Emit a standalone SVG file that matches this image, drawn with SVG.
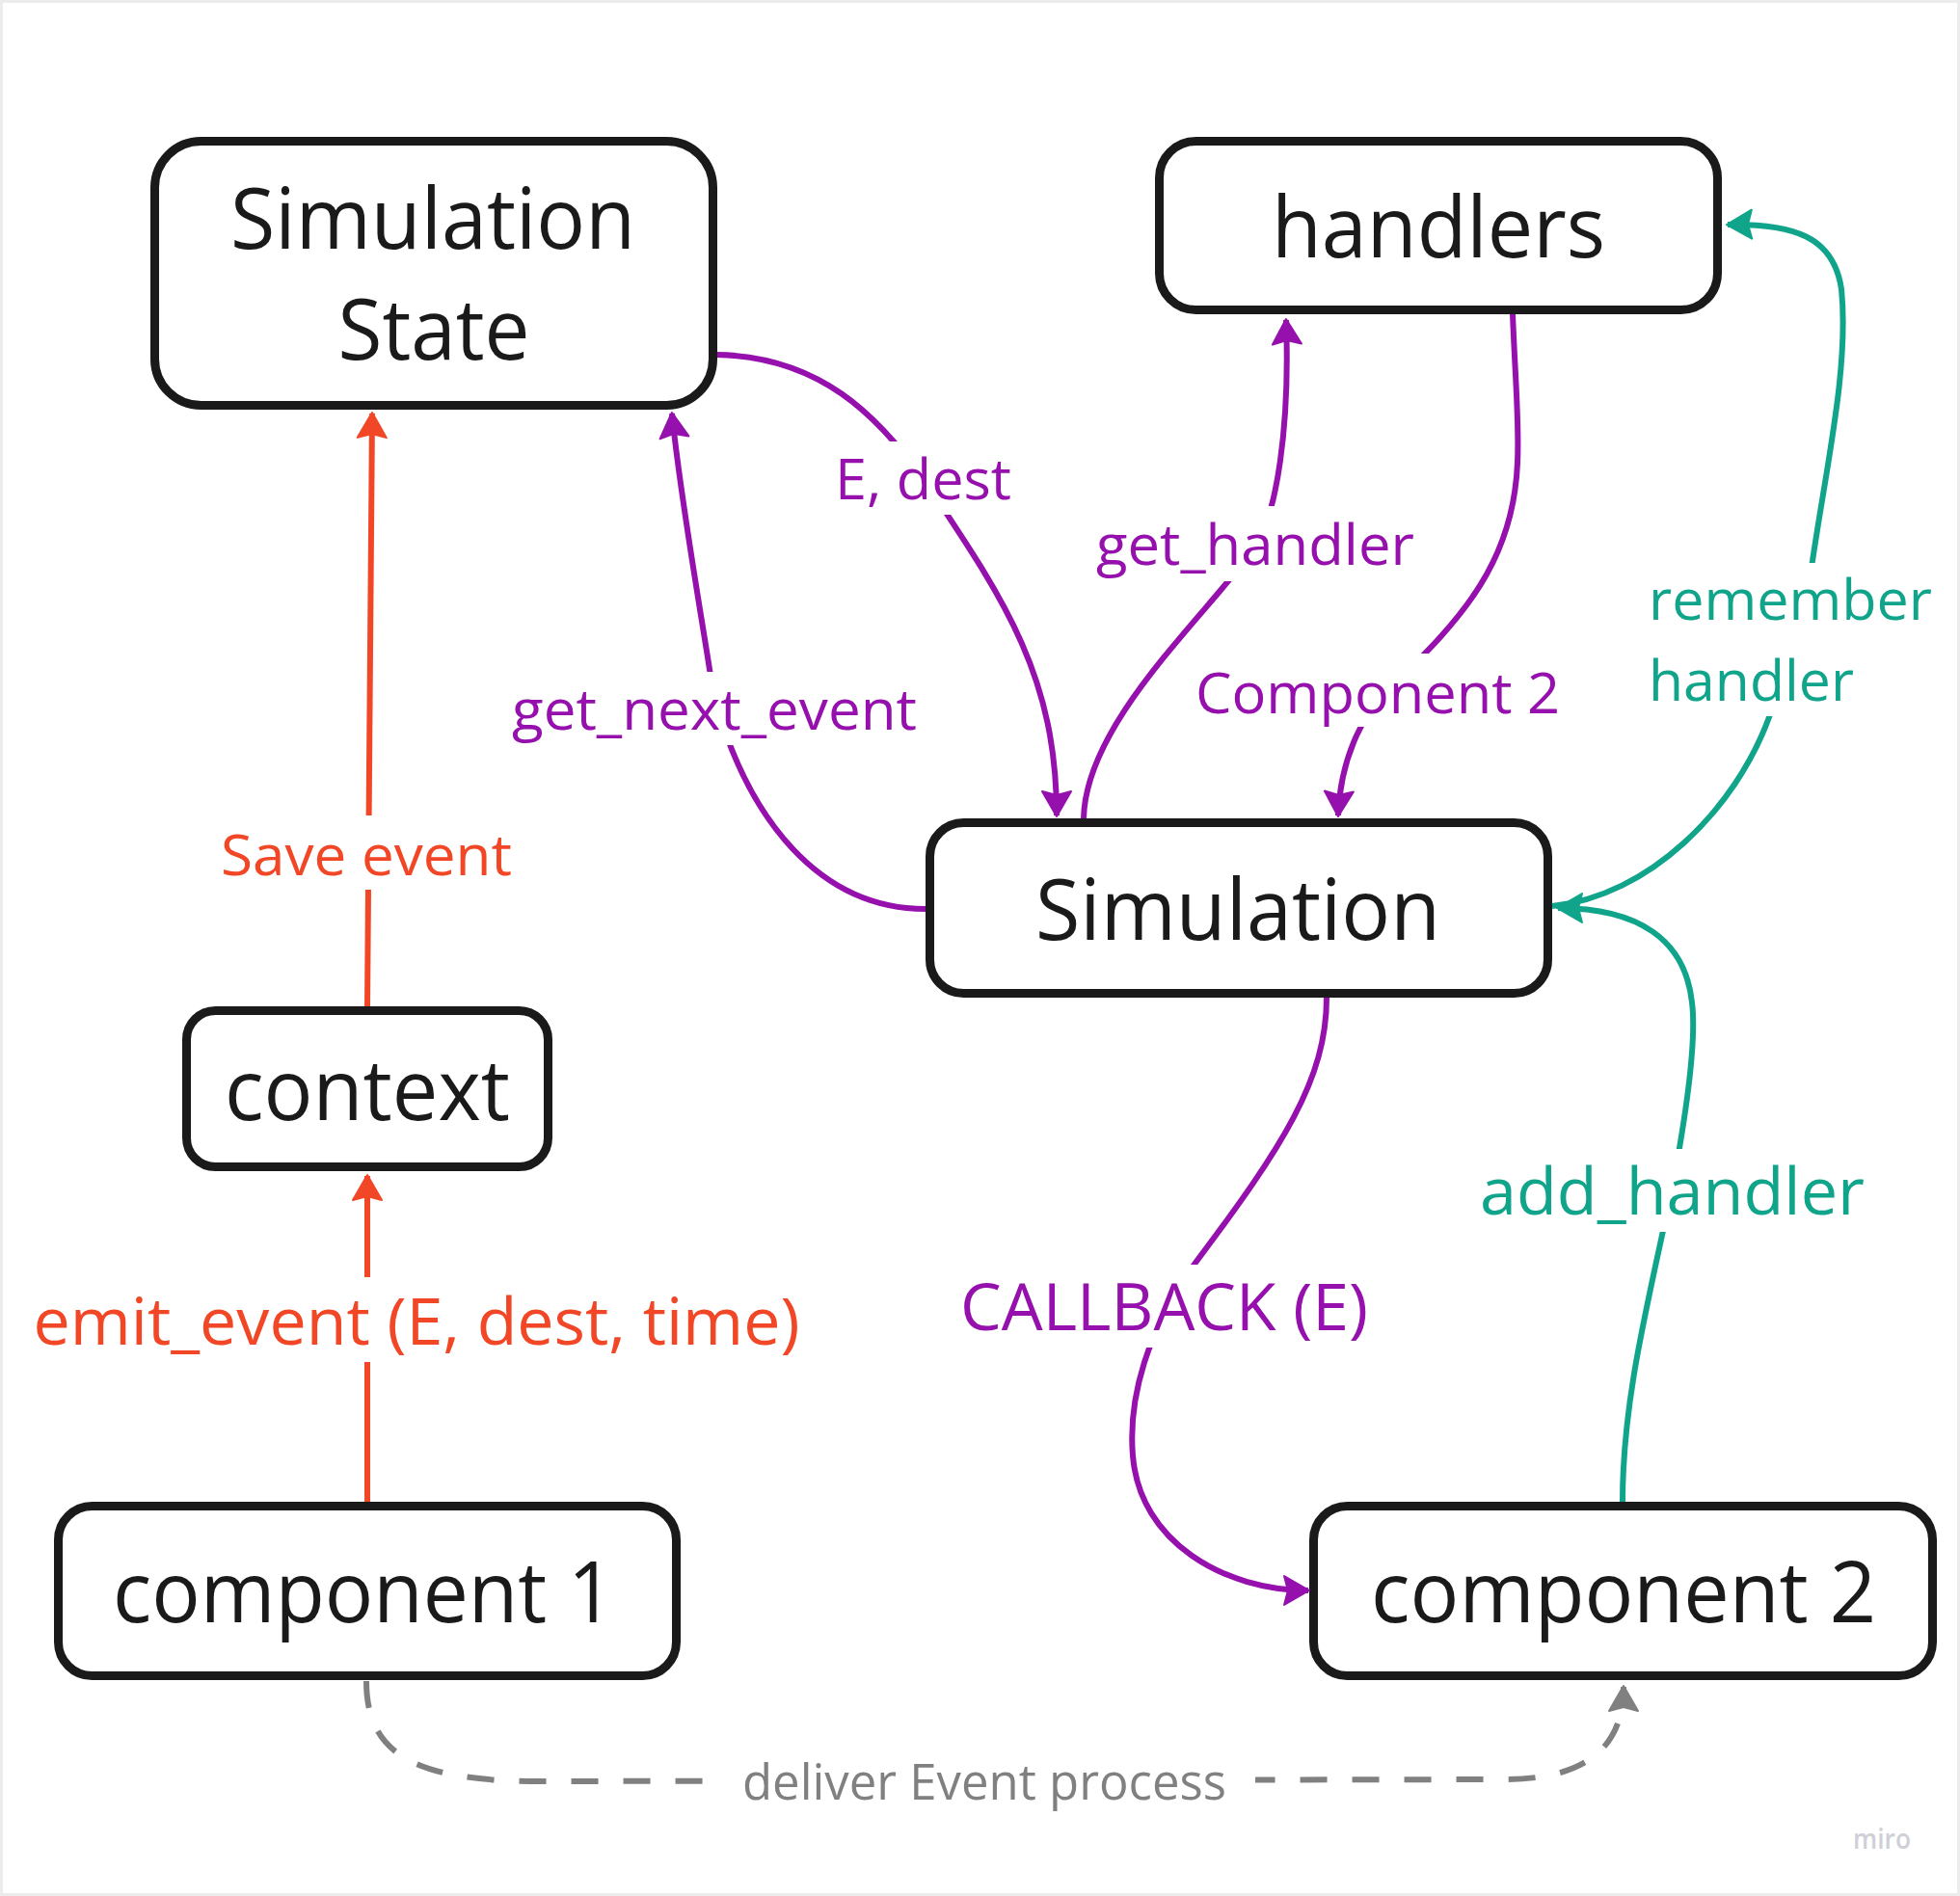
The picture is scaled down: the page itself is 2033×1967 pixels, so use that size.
<svg xmlns="http://www.w3.org/2000/svg" width="2033" height="1967" viewBox="0 0 2033 1967">
<style>
.node rect{fill:#fff;stroke:#1a1a1a;stroke-width:9}
.node text{font-family:"Open Sans","Noto Sans","Liberation Sans",sans-serif;font-size:87px;fill:#1a1a1a;text-anchor:middle}
.line{fill:none;stroke-width:6;stroke-linecap:butt}
.lbl{font-family:"Open Sans","Noto Sans","Liberation Sans",sans-serif;font-size:59px;text-anchor:middle}
.big{font-size:68px}
.bg{fill:#fff}
.red{stroke:#f24726}.redt{fill:#f24726}
.pur{stroke:#9510ac}.purt{fill:#9510ac}
.tea{stroke:#10a58b}.teat{fill:#10a58b}
.gry{stroke:#808080;stroke-dasharray:28 26}.gryt{fill:#808080}
</style>
<defs>
<marker id="aRed" viewBox="-30 -17 32 34" refX="0" refY="0" markerWidth="32" markerHeight="34" markerUnits="userSpaceOnUse" orient="auto"><path d="M1,0 L-25,-15 L-21,0 L-25,15 Z" fill="#f24726" stroke="#f24726" stroke-width="2" stroke-linejoin="round"/></marker>
<marker id="aPur" viewBox="-30 -17 32 34" refX="0" refY="0" markerWidth="32" markerHeight="34" markerUnits="userSpaceOnUse" orient="auto"><path d="M1,0 L-25,-15 L-21,0 L-25,15 Z" fill="#9510ac" stroke="#9510ac" stroke-width="2" stroke-linejoin="round"/></marker>
<marker id="aTea" viewBox="-30 -17 32 34" refX="0" refY="0" markerWidth="32" markerHeight="34" markerUnits="userSpaceOnUse" orient="auto"><path d="M1,0 L-25,-15 L-21,0 L-25,15 Z" fill="#10a58b" stroke="#10a58b" stroke-width="2" stroke-linejoin="round"/></marker>
<marker id="aGry" viewBox="-30 -17 32 34" refX="0" refY="0" markerWidth="32" markerHeight="34" markerUnits="userSpaceOnUse" orient="auto"><path d="M1,0 L-25,-15 L-21,0 L-25,15 Z" fill="#808080" stroke="#808080" stroke-width="2" stroke-linejoin="round"/></marker>
</defs>
<rect x="1.5" y="1.5" width="2030" height="1964" fill="#fff" stroke="#ececec" stroke-width="3"/>

<g id="nodes">
<g id="simulation-state" class="node"><rect x="160.5" y="146.5" width="579" height="274" rx="48"/><text x="449" y="258" textLength="420" lengthAdjust="spacingAndGlyphs">Simulation</text><text x="450" y="373" textLength="199" lengthAdjust="spacingAndGlyphs">State</text></g>
<g id="handlers" class="node"><rect x="1202.5" y="146.5" width="579" height="175" rx="38"/><text x="1492" y="267" textLength="346" lengthAdjust="spacingAndGlyphs">handlers</text></g>
<g id="simulation" class="node"><rect x="964.5" y="853.5" width="641" height="177" rx="35"/><text x="1284" y="975" textLength="420" lengthAdjust="spacingAndGlyphs">Simulation</text></g>
<g id="context" class="node"><rect x="193.5" y="1048.5" width="375" height="162" rx="30"/><text x="381" y="1162" textLength="296" lengthAdjust="spacingAndGlyphs">context</text></g>
<g id="component-1" class="node"><rect x="60.5" y="1562.5" width="641" height="176" rx="35"/><text x="377" y="1683" textLength="520" lengthAdjust="spacingAndGlyphs">component 1</text></g>
<g id="component-2" class="node"><rect x="1362.5" y="1562.5" width="642" height="176" rx="35"/><text x="1684" y="1683" textLength="524" lengthAdjust="spacingAndGlyphs">component 2</text></g>
</g>

<g id="connectors">
<g id="save-event"><path class="line red" d="M 381 1044 L 386 429" marker-end="url(#aRed)"/><rect class="bg" x="221" y="846" width="318" height="77"/><text class="lbl redt" x="380" y="908" textLength="302" lengthAdjust="spacingAndGlyphs">Save event</text></g>
<g id="emit-event"><path class="line red" d="M 381 1558 L 381 1220" marker-end="url(#aRed)"/><rect class="bg" x="26" y="1325" width="811" height="88"/><text class="lbl big redt" x="432" y="1395" textLength="795" lengthAdjust="spacingAndGlyphs">emit_event (E, dest, time)</text></g>
<g id="get-next-event"><path class="line pur" d="M 960 943 C 850 943, 775 850, 740 720 C 728 640, 706 520, 697 429" marker-end="url(#aPur)"/><rect class="bg" x="523" y="697" width="436" height="76"/><text class="lbl purt" x="741" y="757" textLength="420" lengthAdjust="spacingAndGlyphs">get_next_event</text></g>
<g id="e-dest"><path class="line pur" d="M 744 368 C 850 370, 910 430, 960 500 C 1040 620, 1096 700, 1096 846" marker-end="url(#aPur)"/><rect class="bg" x="858" y="458" width="199" height="76"/><text class="lbl purt" x="957.5" y="518" textLength="183" lengthAdjust="spacingAndGlyphs">E, dest</text></g>
<g id="get-handler"><path class="line pur" d="M 1124 849 C 1126 750, 1250 640, 1300 570 C 1325 535, 1338 440, 1334 332" marker-end="url(#aPur)"/><rect class="bg" x="1129" y="525" width="346" height="78"/><text class="lbl purt" x="1302" y="586" textLength="330" lengthAdjust="spacingAndGlyphs">get_handler</text></g>
<g id="component-2-handler"><path class="line pur" d="M 1569 326 C 1572 400, 1576 440, 1574 480 C 1570 580, 1520 640, 1440 715 C 1412 742, 1390 790, 1388 846" marker-end="url(#aPur)"/><rect class="bg" x="1232" y="678" width="394" height="76"/><text class="lbl purt" x="1429" y="740" textLength="378" lengthAdjust="spacingAndGlyphs">Component 2</text></g>
<g id="remember-handler"><path class="line tea" d="M 1610 940 C 1710 930, 1800 840, 1835 744 C 1855 690, 1870 640, 1880 582 C 1895 480, 1918 380, 1910 300 C 1902 245, 1860 232, 1792 233" marker-end="url(#aTea)"/><rect class="bg" x="1700" y="584" width="313" height="159"/><text class="lbl teat" style="text-anchor:start" x="1710" y="643" textLength="294" lengthAdjust="spacingAndGlyphs">remember</text><text class="lbl teat" style="text-anchor:start" x="1710" y="727" textLength="213" lengthAdjust="spacingAndGlyphs">handler</text></g>
<g id="add-handler"><path class="line tea" d="M 1683 1558 C 1683 1450, 1710 1350, 1735 1230 C 1750 1150, 1760 1080, 1755 1040 C 1748 975, 1700 942, 1616 942" marker-end="url(#aTea)"/><rect class="bg" x="1527" y="1192" width="415" height="86"/><text class="lbl big teat" x="1734.5" y="1260" textLength="399" lengthAdjust="spacingAndGlyphs">add_handler</text></g>
<g id="callback"><path class="line pur" d="M 1376 1035 C 1376 1120, 1330 1190, 1240 1310 C 1190 1380, 1170 1450, 1175 1510 C 1182 1600, 1270 1650, 1357 1650" marker-end="url(#aPur)"/><rect class="bg" x="988" y="1312" width="439" height="86"/><text class="lbl big purt" x="1207.5" y="1380" textLength="423" lengthAdjust="spacingAndGlyphs">CALLBACK (E)</text></g>
<g id="deliver-event"><path class="line gry" d="M 380 1744 C 380 1820, 430 1848, 560 1848 L 1560 1846 C 1660 1846, 1684 1800, 1684 1750" marker-end="url(#aGry)"/><rect class="bg" x="735" y="1815" width="567" height="68"/><text class="lbl gryt" style="font-size:51px" x="1021" y="1867" textLength="502" lengthAdjust="spacingAndGlyphs">deliver Event process</text></g>
</g>

<text x="1952" y="1918" text-anchor="middle" font-family="'Open Sans','Noto Sans',sans-serif" font-size="28" font-weight="600" fill="#cfcfd8" textLength="60" lengthAdjust="spacingAndGlyphs">miro</text>
</svg>
